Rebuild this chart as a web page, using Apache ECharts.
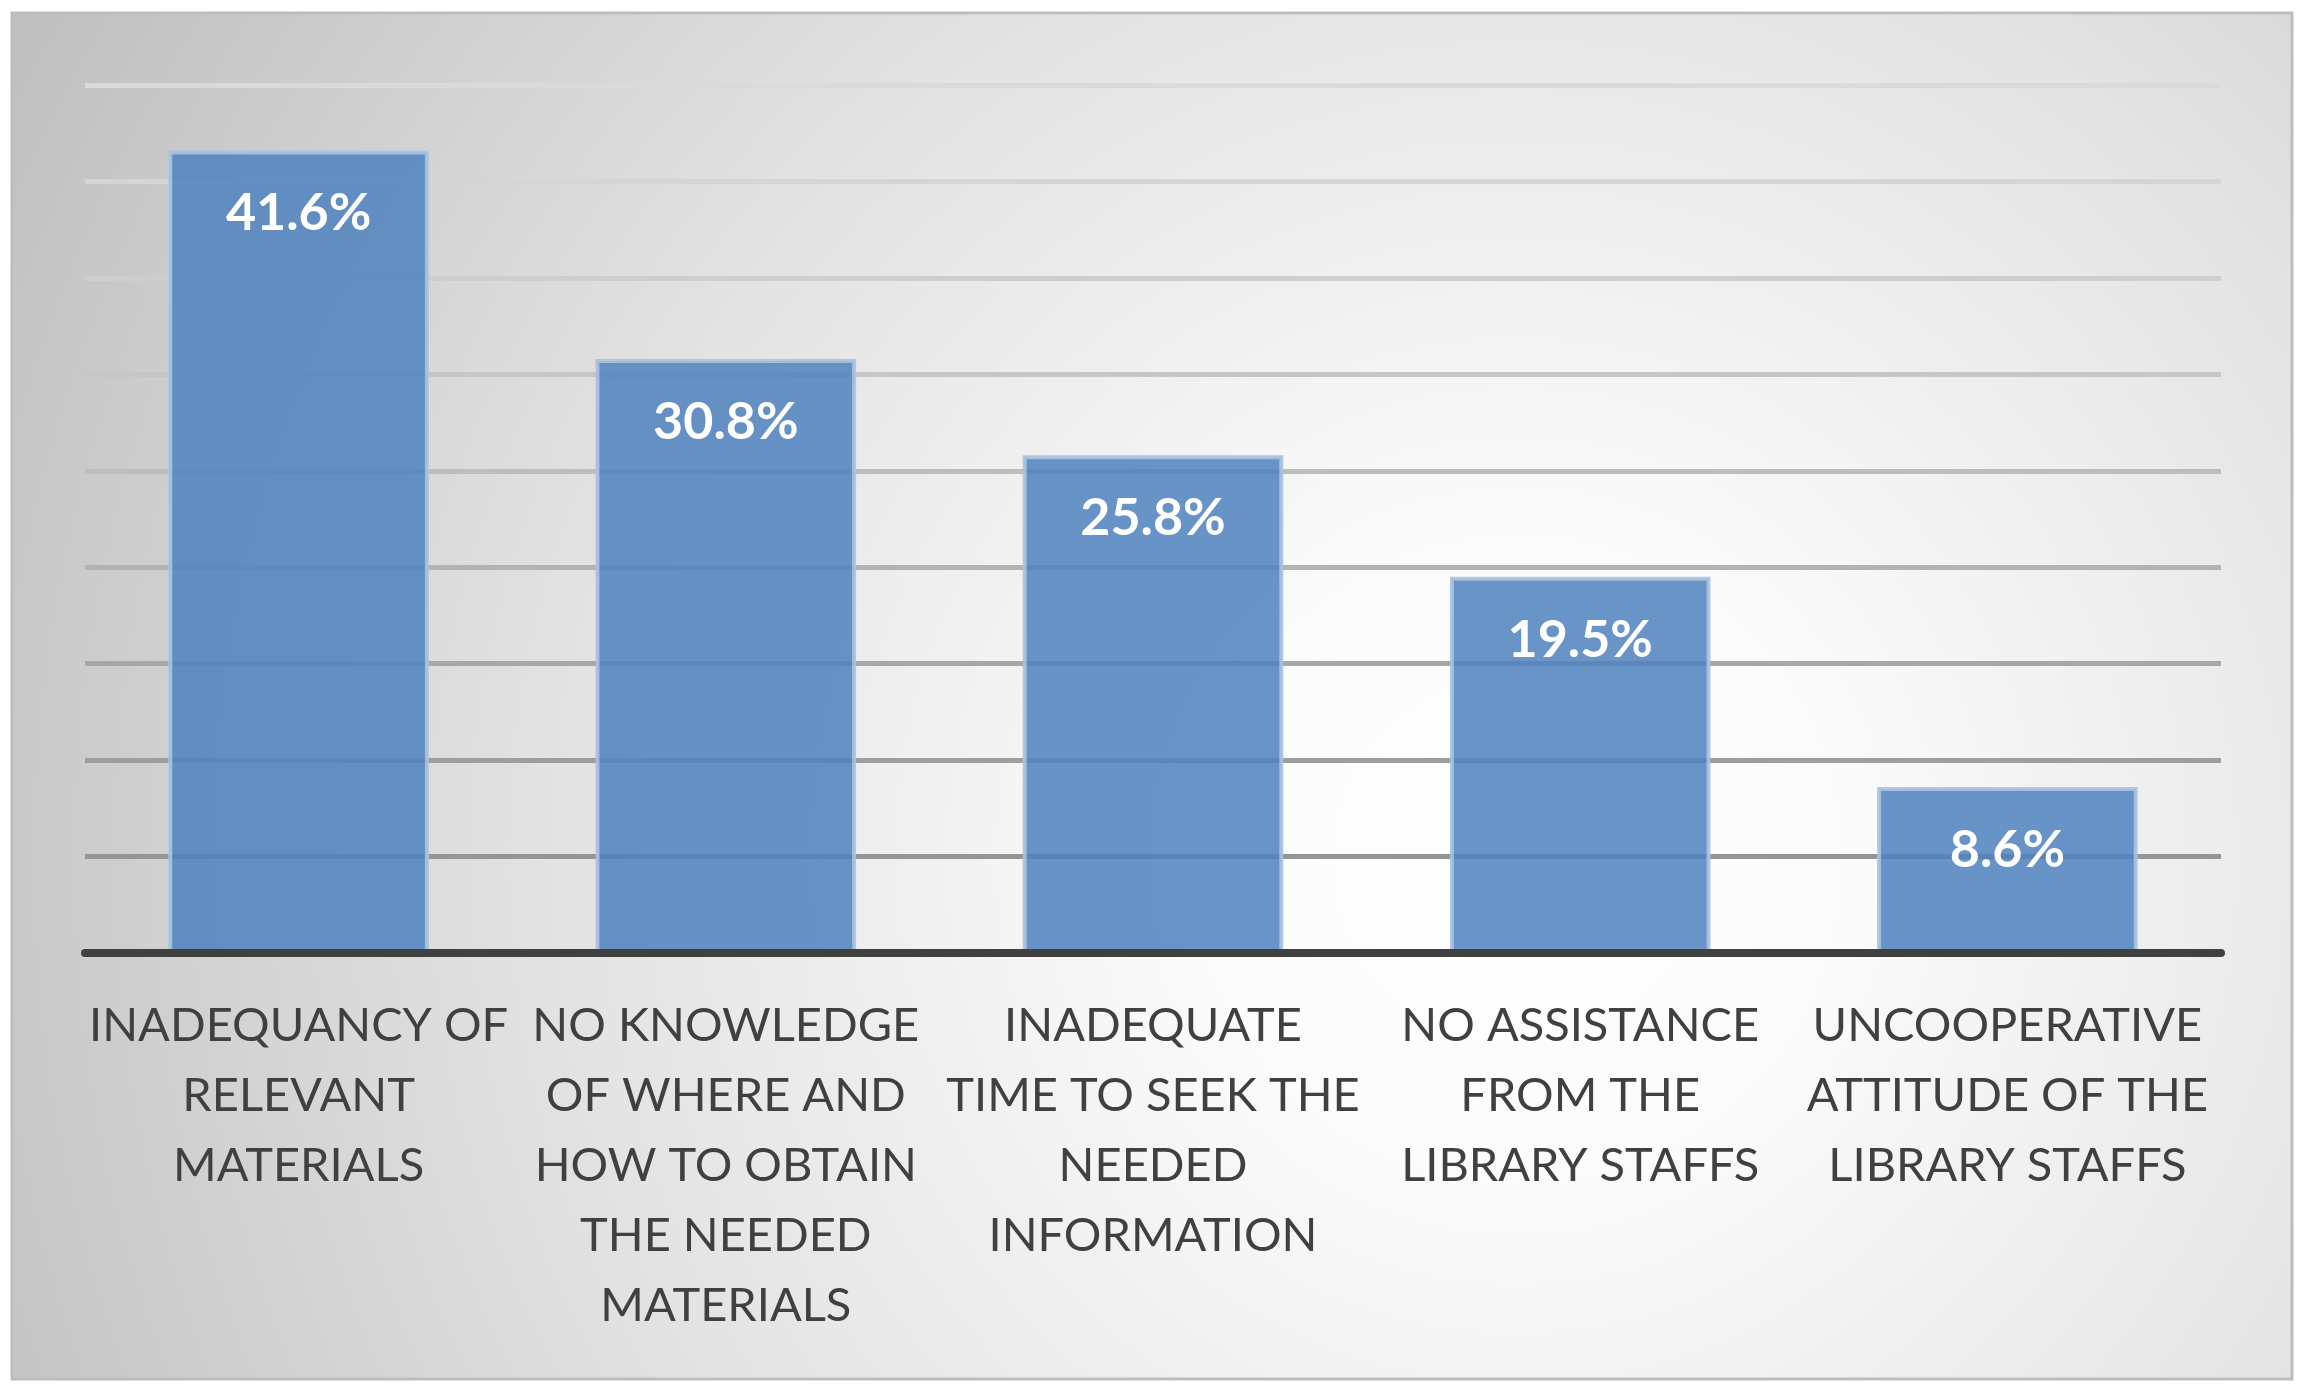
<!DOCTYPE html>
<html>
<head>
<meta charset="utf-8">
<title>Library problems</title>
<script src="https://cdn.jsdelivr.net/npm/echarts@6/dist/echarts.min.js"></script>
<style>
  html, body { margin: 0; padding: 0; background: #fff; }
  #problemChart { width: 2300px; height: 1391px; }
</style>
</head>
<body>
<div id="problemChart"></div>
<script>
// categories as wrapped in the picture
const categories = [
  'INADEQUANCY OF\nRELEVANT\nMATERIALS',
  'NO KNOWLEDGE\nOF WHERE AND\nHOW TO OBTAIN\nTHE NEEDED\nMATERIALS',
  'INADEQUATE\nTIME TO SEEK THE\nNEEDED\nINFORMATION',
  'NO ASSISTANCE\nFROM THE\nLIBRARY STAFFS',
  'UNCOOPERATIVE\nATTITUDE OF THE\nLIBRARY STAFFS'
]
const percentValues = [41.6, 30.8, 25.8, 19.5, 8.6]
const yMin = 0
const yMax = 45
const yStep = 5

// gridlines get darker towards the bottom (index 0 = value 0)
const gridColors = ['#888888', '#959595', '#9e9e9e', '#a7a7a7', '#b3b3b3', '#bdbdbd', '#c6c6c6', '#cecece', '#d5d5d5', '#dadada']

let myChart = echarts.init(document.getElementById('problemChart'))

myChart.setOption({
  animation: false,
  backgroundColor: '#ffffff',
  graphic: [
    {
      type: 'rect',
      silent: true,
      z: -10,
      shape: { x: 12, y: 13, width: 2280, height: 1366 },
      style: {
        fill: new echarts.graphic.RadialGradient(0.66, 0.62, 1.3, [
          { offset: 0, color: '#ffffff' },
          { offset: 0.18, color: '#fbfbfb' },
          { offset: 0.55, color: '#e2e2e2' },
          { offset: 1, color: '#bcbcbc' }
        ]),
        stroke: '#bdbdbd',
        lineWidth: 3
      }
    }
  ],
  grid: {
    left: 85,
    right: 79,
    top: 85,
    bottom: 438,
    containLabel: false
  },
  xAxis: {
    type: 'category',
    data: categories,
    z: 5,
    axisLine: {
      show: true,
      lineStyle: { color: '#404040', width: 8 }
    },
    axisTick: { show: false },
    axisLabel: {
      interval: 0,
      margin: 38,
      color: '#404040',
      fontFamily: 'Lato',
      fontSize: 47,
      lineHeight: 70,
      align: 'center'
    }
  },
  yAxis: {
    type: 'value',
    min: yMin,
    max: yMax,
    interval: yStep,
    axisLine: { show: false },
    axisTick: { show: false },
    axisLabel: { show: false },
    splitLine: {
      show: true,
      lineStyle: { color: gridColors, width: 5 }
    }
  },
  series: [
    {
      type: 'bar',
      data: percentValues,
      barWidth: '61%',
      itemStyle: {
        color: 'rgba(79, 129, 189, 0.85)',
        borderColor: 'rgba(168, 194, 223, 0.9)',
        borderWidth: 4
      },
      label: {
        show: true,
        position: 'insideTop',
        distance: 37,
        color: '#ffffff',
        fontFamily: 'Lato',
        fontWeight: 'bold',
        fontSize: 52,
        formatter: p => p.value.toFixed(1) + '%'
      }
    }
  ]
})
</script>
</body>
</html>
